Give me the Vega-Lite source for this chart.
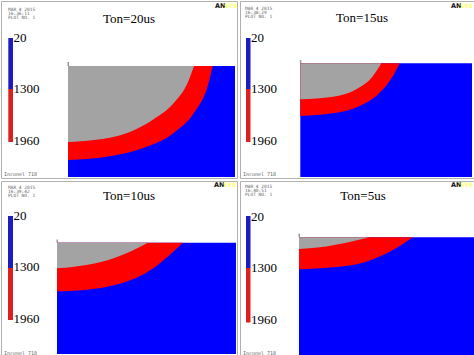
{
  "$schema": "https://vega.github.io/schema/vega-lite/v6.json",
  "padding": 0,
  "background": "white",
  "datasets": {
    "layout": [
      {"panel":"Ton=20us","r":"top","c":"left"},
      {"panel":"Ton=15us","r":"top","c":"right"},
      {"panel":"Ton=10us","r":"bottom","c":"left"},
      {"panel":"Ton=5us","r":"bottom","c":"right"}
    ]
  },
  "data": {"values": [
    {"panel":"Ton=20us","kind":"block","x":67,"x2":234,"y":65,"y2":176},
    {"panel":"Ton=15us","kind":"block","x":60.3,"x2":232,"y":62.3,"y2":176},
    {"panel":"Ton=10us","kind":"block","x":56,"x2":235,"y":61.7,"y2":173},
    {"panel":"Ton=5us","kind":"block","x":59,"x2":235,"y":56.3,"y2":175},

    {"panel":"Ton=20us","kind":"tick","x":66.5,"x2":68,"y":61,"y2":65},
    {"panel":"Ton=15us","kind":"tick","x":59.8,"x2":61.3,"y":59,"y2":62.3},
    {"panel":"Ton=10us","kind":"tick","x":55.5,"x2":57,"y":58.5,"y2":61.7},
    {"panel":"Ton=5us","kind":"tick","x":58.5,"x2":60,"y":52.5,"y2":56.3},

    {"panel":"Ton=20us","kind":"red","x":67,"y":159,"y2":65},
    {"panel":"Ton=20us","kind":"red","x":110,"y":155,"y2":65},
    {"panel":"Ton=20us","kind":"red","x":143,"y":146.7,"y2":65},
    {"panel":"Ton=20us","kind":"red","x":173,"y":131.7,"y2":65},
    {"panel":"Ton=20us","kind":"red","x":193,"y":111.7,"y2":65},
    {"panel":"Ton=20us","kind":"red","x":206.7,"y":85,"y2":65},
    {"panel":"Ton=20us","kind":"red","x":211.7,"y":65,"y2":65},

    {"panel":"Ton=15us","kind":"red","x":60.3,"y":115,"y2":62.3},
    {"panel":"Ton=15us","kind":"red","x":93,"y":112.3,"y2":62.3},
    {"panel":"Ton=15us","kind":"red","x":119.7,"y":105,"y2":62.3},
    {"panel":"Ton=15us","kind":"red","x":139.7,"y":91.7,"y2":62.3},
    {"panel":"Ton=15us","kind":"red","x":153,"y":75,"y2":62.3},
    {"panel":"Ton=15us","kind":"red","x":159.7,"y":62.3,"y2":62.3},

    {"panel":"Ton=10us","kind":"red","x":56,"y":110.3,"y2":61.7},
    {"panel":"Ton=10us","kind":"red","x":83.3,"y":109,"y2":61.7},
    {"panel":"Ton=10us","kind":"red","x":116.7,"y":103.3,"y2":61.7},
    {"panel":"Ton=10us","kind":"red","x":136,"y":96.5,"y2":61.7},
    {"panel":"Ton=10us","kind":"red","x":152,"y":87.5,"y2":61.7},
    {"panel":"Ton=10us","kind":"red","x":167.5,"y":75,"y2":61.7},
    {"panel":"Ton=10us","kind":"red","x":182,"y":61.7,"y2":61.7},

    {"panel":"Ton=5us","kind":"red","x":59,"y":88.3,"y2":56.3},
    {"panel":"Ton=5us","kind":"red","x":93,"y":86.3,"y2":56.3},
    {"panel":"Ton=5us","kind":"red","x":126.3,"y":80.7,"y2":56.3},
    {"panel":"Ton=5us","kind":"red","x":153,"y":69,"y2":56.3},
    {"panel":"Ton=5us","kind":"red","x":173,"y":56.3,"y2":56.3},

    {"panel":"Ton=20us","kind":"gray","x":67,"y":141,"y2":65},
    {"panel":"Ton=20us","kind":"gray","x":93,"y":139,"y2":65},
    {"panel":"Ton=20us","kind":"gray","x":127,"y":131.7,"y2":65},
    {"panel":"Ton=20us","kind":"gray","x":153,"y":118,"y2":65},
    {"panel":"Ton=20us","kind":"gray","x":173,"y":101.7,"y2":65},
    {"panel":"Ton=20us","kind":"gray","x":186.7,"y":81.7,"y2":65},
    {"panel":"Ton=20us","kind":"gray","x":193,"y":65,"y2":65},

    {"panel":"Ton=15us","kind":"gray","x":60.3,"y":98.3,"y2":62.3},
    {"panel":"Ton=15us","kind":"gray","x":93,"y":95.7,"y2":62.3},
    {"panel":"Ton=15us","kind":"gray","x":116.3,"y":88.3,"y2":62.3},
    {"panel":"Ton=15us","kind":"gray","x":133,"y":75,"y2":62.3},
    {"panel":"Ton=15us","kind":"gray","x":141.3,"y":62.3,"y2":62.3},

    {"panel":"Ton=10us","kind":"gray","x":56,"y":87.3,"y2":61.7},
    {"panel":"Ton=10us","kind":"gray","x":73.3,"y":85.7,"y2":61.7},
    {"panel":"Ton=10us","kind":"gray","x":100,"y":81,"y2":61.7},
    {"panel":"Ton=10us","kind":"gray","x":126.7,"y":71.7,"y2":61.7},
    {"panel":"Ton=10us","kind":"gray","x":146.7,"y":61.7,"y2":61.7},

    {"panel":"Ton=5us","kind":"gray","x":59,"y":68,"y2":56.3},
    {"panel":"Ton=5us","kind":"gray","x":79.7,"y":66.3,"y2":56.3},
    {"panel":"Ton=5us","kind":"gray","x":106.3,"y":61.7,"y2":56.3},
    {"panel":"Ton=5us","kind":"gray","x":129.7,"y":56.3,"y2":56.3},

    {"panel":"Ton=20us","kind":"cblo","x":7.3,"x2":12,"y":37,"y2":88},
    {"panel":"Ton=20us","kind":"cbhi","x":7.3,"x2":12,"y":88,"y2":141},
    {"panel":"Ton=15us","kind":"cblo","x":6,"x2":10.5,"y":37,"y2":88},
    {"panel":"Ton=15us","kind":"cbhi","x":6,"x2":10.5,"y":88,"y2":141},
    {"panel":"Ton=10us","kind":"cblo","x":7,"x2":12,"y":35,"y2":87},
    {"panel":"Ton=10us","kind":"cbhi","x":7,"x2":12,"y":87,"y2":139},
    {"panel":"Ton=5us","kind":"cblo","x":6,"x2":10.5,"y":35,"y2":87},
    {"panel":"Ton=5us","kind":"cbhi","x":6,"x2":10.5,"y":87,"y2":141.5},

    {"panel":"Ton=20us","kind":"cbl","x":12.5,"y":37,"label":"20"},
    {"panel":"Ton=20us","kind":"cbl","x":12.5,"y":88,"label":"1300"},
    {"panel":"Ton=20us","kind":"cbl","x":12.5,"y":140,"label":"1960"},
    {"panel":"Ton=15us","kind":"cbl","x":11,"y":37,"label":"20"},
    {"panel":"Ton=15us","kind":"cbl","x":11,"y":88,"label":"1300"},
    {"panel":"Ton=15us","kind":"cbl","x":11,"y":140,"label":"1960"},
    {"panel":"Ton=10us","kind":"cbl","x":12.5,"y":34.5,"label":"20"},
    {"panel":"Ton=10us","kind":"cbl","x":12.5,"y":85.5,"label":"1300"},
    {"panel":"Ton=10us","kind":"cbl","x":12.5,"y":137.5,"label":"1960"},
    {"panel":"Ton=5us","kind":"cbl","x":11,"y":36,"label":"20"},
    {"panel":"Ton=5us","kind":"cbl","x":11,"y":87,"label":"1300"},
    {"panel":"Ton=5us","kind":"cbl","x":11,"y":138.5,"label":"1960"},

    {"panel":"Ton=20us","kind":"title","x":128,"y":17.5,"label":"Ton=20us"},
    {"panel":"Ton=15us","kind":"title","x":122,"y":17,"label":"Ton=15us"},
    {"panel":"Ton=10us","kind":"title","x":128,"y":15,"label":"Ton=10us"},
    {"panel":"Ton=5us","kind":"title","x":123,"y":15,"label":"Ton=5us"},

    {"panel":"Ton=20us","kind":"info","x":7,"y":9,"label":"MAR  4 2015"},
    {"panel":"Ton=20us","kind":"info","x":7,"y":13,"label":"16:36:11"},
    {"panel":"Ton=20us","kind":"info","x":7,"y":17,"label":"PLOT NO.   1"},
    {"panel":"Ton=15us","kind":"info","x":5,"y":8,"label":"MAR  4 2015"},
    {"panel":"Ton=15us","kind":"info","x":5,"y":12,"label":"16:38:29"},
    {"panel":"Ton=15us","kind":"info","x":5,"y":16,"label":"PLOT NO.   1"},
    {"panel":"Ton=10us","kind":"info","x":7,"y":7,"label":"MAR  4 2015"},
    {"panel":"Ton=10us","kind":"info","x":7,"y":11,"label":"16:39:42"},
    {"panel":"Ton=10us","kind":"info","x":7,"y":15,"label":"PLOT NO.   1"},
    {"panel":"Ton=5us","kind":"info","x":5,"y":6,"label":"MAR  4 2015"},
    {"panel":"Ton=5us","kind":"info","x":5,"y":10,"label":"16:40:51"},
    {"panel":"Ton=5us","kind":"info","x":5,"y":14,"label":"PLOT NO.   1"},

    {"panel":"Ton=20us","kind":"logo","x":214,"y":5,"label":"AN"},
    {"panel":"Ton=15us","kind":"logo","x":211,"y":5,"label":"AN"},
    {"panel":"Ton=10us","kind":"logo","x":213,"y":4,"label":"AN"},
    {"panel":"Ton=5us","kind":"logo","x":211,"y":4,"label":"AN"},
    {"panel":"Ton=20us","kind":"logo2","x":223,"y":5,"label":"SYS"},
    {"panel":"Ton=15us","kind":"logo2","x":220,"y":5,"label":"SYS"},
    {"panel":"Ton=10us","kind":"logo2","x":222,"y":4,"label":"SYS"},
    {"panel":"Ton=5us","kind":"logo2","x":220,"y":4,"label":"SYS"},

    {"panel":"Ton=20us","kind":"mat","x":3,"y":173,"label":"Inconel 718"},
    {"panel":"Ton=15us","kind":"mat","x":3,"y":173,"label":"Inconel 718"},
    {"panel":"Ton=10us","kind":"mat","x":3,"y":171.5,"label":"Inconel 718"},
    {"panel":"Ton=5us","kind":"mat","x":3,"y":171.5,"label":"Inconel 718"}
  ]},
  "transform": [
    {"lookup": "panel", "from": {"data": {"name": "layout"}, "key": "panel", "fields": ["r", "c"]}}
  ],
  "facet": {
    "row": {"field": "r", "type": "nominal", "sort": ["top", "bottom"], "header": {"labels": false, "title": null}},
    "column": {"field": "c", "type": "nominal", "sort": ["left", "right"], "header": {"labels": false, "title": null}}
  },
  "spacing": {"row": 1, "column": 1},
  "spec": {
    "width": 236,
    "height": 177,
    "layer": [
      {
        "transform": [{"filter": "datum.kind === 'block'"}],
        "mark": {"type": "rect", "color": "#0000ff"},
        "encoding": {
          "x": {"field": "x", "type": "quantitative", "scale": {"domain": [0, 236], "nice": false, "zero": false}, "axis": null},
          "x2": {"field": "x2"},
          "y": {"field": "y", "type": "quantitative", "scale": {"domain": [0, 177], "reverse": true, "nice": false, "zero": false}, "axis": null},
          "y2": {"field": "y2"}
        }
      },
      {
        "transform": [{"filter": "datum.kind === 'tick'"}],
        "mark": {"type": "rect", "color": "#999999"},
        "encoding": {
          "x": {"field": "x", "type": "quantitative", "scale": {"domain": [0, 236], "nice": false, "zero": false}, "axis": null},
          "x2": {"field": "x2"},
          "y": {"field": "y", "type": "quantitative", "scale": {"domain": [0, 177], "reverse": true, "nice": false, "zero": false}, "axis": null},
          "y2": {"field": "y2"}
        }
      },
      {
        "transform": [{"filter": "datum.kind === 'red'"}],
        "mark": {"type": "area", "color": "#ff0000", "interpolate": "monotone", "opacity": 1},
        "encoding": {
          "x": {"field": "x", "type": "quantitative", "scale": {"domain": [0, 236], "nice": false, "zero": false}, "axis": null},
          "y": {"field": "y", "type": "quantitative", "scale": {"domain": [0, 177], "reverse": true, "nice": false, "zero": false}, "axis": null},
          "y2": {"field": "y2"}
        }
      },
      {
        "transform": [{"filter": "datum.kind === 'gray'"}],
        "mark": {"type": "area", "color": "#a3a3a3", "interpolate": "monotone", "opacity": 1},
        "encoding": {
          "x": {"field": "x", "type": "quantitative", "scale": {"domain": [0, 236], "nice": false, "zero": false}, "axis": null},
          "y": {"field": "y", "type": "quantitative", "scale": {"domain": [0, 177], "reverse": true, "nice": false, "zero": false}, "axis": null},
          "y2": {"field": "y2"}
        }
      },
      {
        "transform": [{"filter": "datum.kind === 'cblo'"}],
        "mark": {"type": "rect", "color": "#1c1cc0"},
        "encoding": {
          "x": {"field": "x", "type": "quantitative", "scale": {"domain": [0, 236], "nice": false, "zero": false}, "axis": null},
          "x2": {"field": "x2"},
          "y": {"field": "y", "type": "quantitative", "scale": {"domain": [0, 177], "reverse": true, "nice": false, "zero": false}, "axis": null},
          "y2": {"field": "y2"}
        }
      },
      {
        "transform": [{"filter": "datum.kind === 'cbhi'"}],
        "mark": {"type": "rect", "color": "#dc2020"},
        "encoding": {
          "x": {"field": "x", "type": "quantitative", "scale": {"domain": [0, 236], "nice": false, "zero": false}, "axis": null},
          "x2": {"field": "x2"},
          "y": {"field": "y", "type": "quantitative", "scale": {"domain": [0, 177], "reverse": true, "nice": false, "zero": false}, "axis": null},
          "y2": {"field": "y2"}
        }
      },
      {
        "transform": [{"filter": "datum.kind === 'cbl'"}],
        "mark": {"type": "text", "font": "Liberation Serif", "fontSize": 13, "align": "left", "baseline": "middle", "color": "#000000"},
        "encoding": {
          "x": {"field": "x", "type": "quantitative", "scale": {"domain": [0, 236], "nice": false, "zero": false}, "axis": null},
          "y": {"field": "y", "type": "quantitative", "scale": {"domain": [0, 177], "reverse": true, "nice": false, "zero": false}, "axis": null},
          "text": {"field": "label"}
        }
      },
      {
        "transform": [{"filter": "datum.kind === 'title'"}],
        "mark": {"type": "text", "font": "Liberation Serif", "fontSize": 13, "align": "center", "baseline": "middle", "color": "#000000"},
        "encoding": {
          "x": {"field": "x", "type": "quantitative", "scale": {"domain": [0, 236], "nice": false, "zero": false}, "axis": null},
          "y": {"field": "y", "type": "quantitative", "scale": {"domain": [0, 177], "reverse": true, "nice": false, "zero": false}, "axis": null},
          "text": {"field": "label"}
        }
      },
      {
        "transform": [{"filter": "datum.kind === 'info'"}],
        "mark": {"type": "text", "font": "DejaVu Sans Mono", "fontSize": 4.5, "align": "left", "baseline": "middle", "color": "#666666"},
        "encoding": {
          "x": {"field": "x", "type": "quantitative", "scale": {"domain": [0, 236], "nice": false, "zero": false}, "axis": null},
          "y": {"field": "y", "type": "quantitative", "scale": {"domain": [0, 177], "reverse": true, "nice": false, "zero": false}, "axis": null},
          "text": {"field": "label"}
        }
      },
      {
        "transform": [{"filter": "datum.kind === 'logo'"}],
        "mark": {"type": "text", "font": "DejaVu Sans", "fontSize": 6.5, "fontWeight": "bold", "align": "left", "baseline": "middle", "color": "#111111"},
        "encoding": {
          "x": {"field": "x", "type": "quantitative", "scale": {"domain": [0, 236], "nice": false, "zero": false}, "axis": null},
          "y": {"field": "y", "type": "quantitative", "scale": {"domain": [0, 177], "reverse": true, "nice": false, "zero": false}, "axis": null},
          "text": {"field": "label"}
        }
      },
      {
        "transform": [{"filter": "datum.kind === 'logo2'"}],
        "mark": {"type": "text", "font": "DejaVu Sans", "fontSize": 6, "fontWeight": "bold", "align": "left", "baseline": "middle", "color": "#ffff66"},
        "encoding": {
          "x": {"field": "x", "type": "quantitative", "scale": {"domain": [0, 236], "nice": false, "zero": false}, "axis": null},
          "y": {"field": "y", "type": "quantitative", "scale": {"domain": [0, 177], "reverse": true, "nice": false, "zero": false}, "axis": null},
          "text": {"field": "label"}
        }
      },
      {
        "transform": [{"filter": "datum.kind === 'mat'"}],
        "mark": {"type": "text", "font": "DejaVu Sans Mono", "fontSize": 5, "align": "left", "baseline": "middle", "color": "#666666"},
        "encoding": {
          "x": {"field": "x", "type": "quantitative", "scale": {"domain": [0, 236], "nice": false, "zero": false}, "axis": null},
          "y": {"field": "y", "type": "quantitative", "scale": {"domain": [0, 177], "reverse": true, "nice": false, "zero": false}, "axis": null},
          "text": {"field": "label"}
        }
      }
    ]
  },
  "config": {
    "view": {"stroke": "#b0b0b0", "strokeWidth": 1}
  }
}
